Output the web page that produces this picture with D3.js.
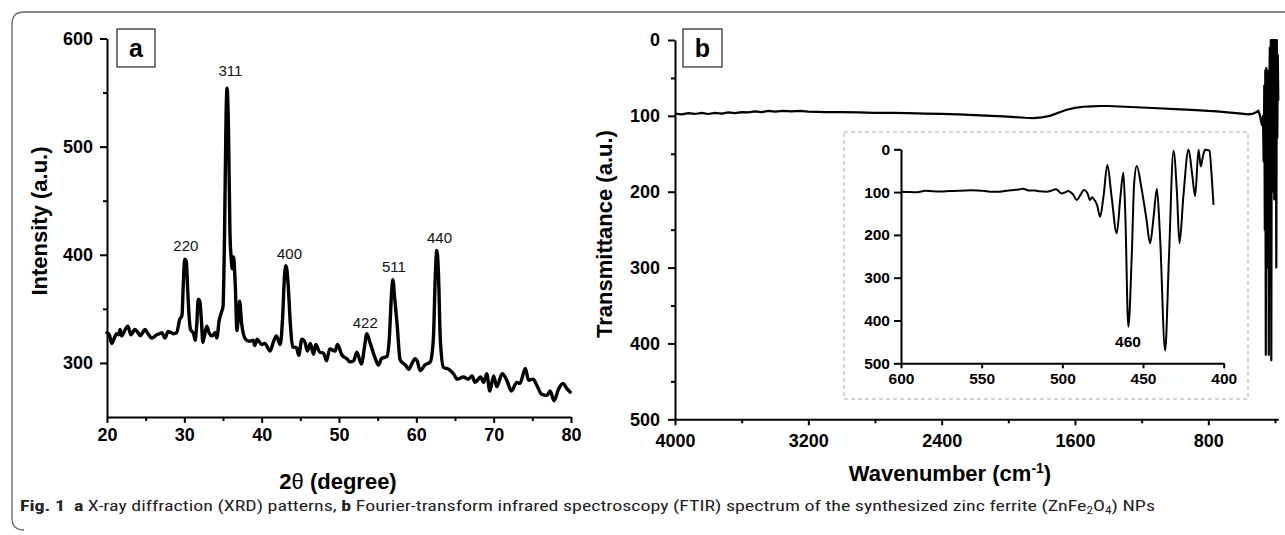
<!DOCTYPE html>
<html><head><meta charset="utf-8">
<script src="https://cdn.jsdelivr.net/npm/d3@7"></script>
<style>body{margin:0;background:#fff} svg{display:block}</style>
</head><body>
<svg id="c" width="1285" height="535"></svg>
<script>
// ---------- Panel a: XRD ----------
const xrdTheta = [20.0,20.3,20.6,21.0,21.25,21.5,21.7,21.9,22.1,22.3,22.7,23.1,23.3,23.6,24.0,24.3,24.6,24.9,25.3,25.8,26.1,26.4,26.8,27.1,27.5,27.9,28.3,28.6,29.0,29.4,29.7,29.85,30.05,30.25,30.45,30.6,30.8,31.2,31.4,31.6,31.8,32.0,32.2,32.4,32.6,32.9,33.2,33.6,34.0,34.2,34.5,34.8,35.0,35.2,35.4,35.52,35.7,35.9,36.05,36.2,36.35,36.6,36.8,36.95,37.15,37.4,37.9,38.4,38.9,39.1,39.4,40.0,40.4,41.1,41.5,41.9,42.4,42.7,42.95,43.15,43.4,43.7,44.0,44.5,44.8,45.2,45.6,45.9,46.3,46.7,47.0,47.5,48.0,48.4,48.8,49.5,49.8,50.4,51.0,51.4,51.9,52.3,52.9,53.3,53.6,54.0,54.7,55.1,55.5,56.2,56.5,56.8,56.96,57.2,57.5,57.9,58.1,58.6,59.0,59.4,59.85,60.1,60.5,61.1,61.8,62.2,62.45,62.65,62.85,63.1,63.5,64.2,64.8,65.3,66.1,66.7,67.2,67.6,68.3,68.7,69.1,69.5,70.0,70.4,71.1,71.7,72.3,73.0,73.4,74.1,74.5,75.1,75.6,76.2,76.9,77.3,77.8,78.4,78.95,79.5,79.9];
const xrdIntensity = [328,326,318,324,327,326,331,325,327,330,334,326,328,331,328,325,328,331,327,323,324,326,327,328,323,329,328,327,328,340,344,370,396,394,365,345,331,327,321,335,359,357,340,319,325,334,328,325,328,323,339,347,352,420,530,554,520,420,398,387,398,370,330,340,357,337,322,320,321,316,322,317,318,311,319,325,317,341,380,390,375,337,315,314,307,322,319,311,318,308,317,310,309,302,313,311,317,307,304,301,302,310,299,315,327,319,304,298,304,306,322,365,377,360,337,303,301,298,294,299,304,302,293,298,301,322,380,404,385,322,296,294,290,285,287,285,288,282,287,282,290,274,288,278,290,284,274,282,281,295,284,285,279,271,270,274,265,276,281,276,273];
const xrdPeakNames = ["220","311","400","422","511","440"];
const xrdPeakLabelTheta = [30.2,35.95,43.6,53.4,57.1,63.0];
const xrdPeakLabelIntensity = [408.8,570,401.4,336.9,388.9,416.1];
const xrdXTicks = [20,30,40,50,60,70,80];
const xrdXMinor = [25,35,45,55,65,75];
const xrdYTicks = [300,400,500,600];
const xrdYMinor = [350,450,550];

// ---------- Panel b: FTIR (main) ----------
const ftirWn = [4000,3960,3920,3880,3840,3800,3760,3720,3680,3640,3600,3560,3520,3480,3440,3400,3350,3300,3250,3200,3100,3000,2900,2800,2700,2600,2500,2400,2300,2200,2100,2000,1900,1850,1800,1750,1700,1650,1600,1550,1500,1450,1400,1300,1200,1100,1000,900,800,750,700,650,600,560,530,510,500,492,485,478,472,468,464,461,458,455,452,449,446,443,440,437,434,431,428,425,422,419,416,413,410,407,404,401,398,395,392,389,386,383,380];
const ftirT = [97,98,96.5,97.5,96,97.5,96,97,95.5,96.5,95,95.5,94,95,93.5,94.5,93.5,94,93.5,94.5,95,95,95.5,96,96,96.5,97,97.5,98,99,100,101,102.5,103,102,100,96,92,89.5,88,87.5,87,87,88,89,90,91,92,93.5,94,95,96,97,98,97,95,93,98,105,112,100,160,60,250,40,415,37,300,40,200,60,415,70,10,250,0,422,0,200,0,129,0,210,0,129,0,300,0,129,20,80];
const ftirXTicks = [4000,3200,2400,1600,800];
const ftirXMinor = [3600,2800,2000,1200,400];
const ftirYTicks = [0,100,200,300,400,500];
const ftirYMinor = [50,150,250,350,450];

// ---------- Panel b: inset (600-400 cm-1) ----------
const insetWn = [600,595,590,585,580,575,570,565,560,557,552,548,545,540,535,530,527,524.5,521,517,514,510,507,504,500.4,498,496.3,493.5,491,489,486.6,484.5,482.9,481.5,480.8,478.5,476.6,474.5,472.1,469.5,466.3,464,462.2,461,459.1,457,455.5,453.9,451,448,445.6,443.5,441.4,439.5,436.3,434,431.1,429,427.4,425,421.8,419.5,417.7,415.6,414.2,412.8,411.5,408.8,407.5,406.3];
const insetT = [99,100,100.5,97,98,98.5,97.5,97,96.5,95.7,96,97.5,99,99,97,95,94,92,96,96.5,98,99,97,93.5,103,100,97.4,105,118.4,108,95,102,118.4,112,114.6,130,157.4,110,36.7,110,196.3,110,54.6,150,414.4,250,80,39,90,160,219.6,160,93,200,470,260,3.5,100,219.7,110,0.5,60,109.5,1,40,15,1,3,60,130];
const insetXTicks = [600,550,500,450,400];
const insetYTicks = [0,100,200,300,400,500];

const svg = d3.select("#c");
const FONT = "'Liberation Sans', Arial, Helvetica, sans-serif";
const fmt = d3.format("d");

// outer frame
svg.append("path")
  .attr("d","M1285,12 H24 Q12,12 12,24 V518 Q12,530 24,530")
  .attr("fill","none").attr("stroke","#666").attr("stroke-width",1.3);

function styleAxis(g, fs){
  g.select(".domain").attr("stroke","#000").attr("stroke-width",2);
  g.selectAll(".tick line").attr("stroke","#000").attr("stroke-width",2);
  g.selectAll(".tick text").attr("fill","#000")
    .attr("font-family",FONT).attr("font-size",fs).attr("font-weight","bold");
}
function minor(g){ g.selectAll(".tick text").remove(); g.select(".domain").remove();
  g.selectAll(".tick line").attr("stroke","#000").attr("stroke-width",2); }

// ===== Panel a =====
const xA = d3.scaleLinear().domain([20,80]).range([107,571]);
const yA = d3.scaleLinear().domain([250,600]).range([417,38.5]);

svg.append("g").attr("transform","translate(0,417)")
  .call(d3.axisBottom(xA).tickValues(xrdXMinor).tickSize(4).tickSizeOuter(0)).call(minor);
svg.append("g").attr("transform","translate(107,0)")
  .call(d3.axisLeft(yA).tickValues(xrdYMinor).tickSize(4).tickSizeOuter(0)).call(minor);
svg.append("g").attr("transform","translate(0,417)")
  .call(d3.axisBottom(xA).tickValues(xrdXTicks).tickFormat(fmt).tickSize(6).tickPadding(5).tickSizeOuter(0))
  .call(g=>styleAxis(g,18));
svg.append("g").attr("transform","translate(107,0)")
  .call(d3.axisLeft(yA).tickValues(xrdYTicks).tickFormat(fmt).tickSize(7).tickPadding(7).tickSizeOuter(0))
  .call(g=>styleAxis(g,18));

const xrdData = xrdTheta.map((t,i)=>[t,xrdIntensity[i]]);
svg.append("path").datum(xrdData)
  .attr("fill","none").attr("stroke","#000").attr("stroke-width",3.4)
  .attr("stroke-linejoin","round").attr("stroke-linecap","round")
  .attr("d", d3.line().x(d=>xA(d[0])).y(d=>yA(d[1])).curve(d3.curveMonotoneX));

svg.append("g").selectAll("text").data(xrdPeakNames).join("text")
  .attr("x",(d,i)=>xA(xrdPeakLabelTheta[i]))
  .attr("y",(d,i)=>yA(xrdPeakLabelIntensity[i]))
  .attr("dy","0.36em").attr("text-anchor","middle")
  .attr("font-family",FONT).attr("font-size",15).attr("fill","#111")
  .text(d=>d);

svg.append("rect").attr("x",117).attr("y",29).attr("width",38).attr("height",38)
  .attr("fill","#fff").attr("stroke","#222").attr("stroke-width",1.2);
svg.append("text").attr("x",136).attr("y",57).attr("text-anchor","middle")
  .attr("font-family",FONT).attr("font-size",25).attr("font-weight","bold").text("a");

svg.append("text").attr("transform","translate(47,221) rotate(-90)")
  .attr("text-anchor","middle").attr("font-family",FONT).attr("font-size",22)
  .attr("font-weight","bold").text("Intensity (a.u.)");
const tA = svg.append("text").attr("x",338).attr("y",489).attr("text-anchor","middle")
  .attr("font-family",FONT).attr("font-size",22).attr("font-weight","bold");
tA.append("tspan").text("2");
tA.append("tspan").attr("font-weight","normal").text("\u03B8");
tA.append("tspan").text(" (degree)");

// ===== Panel b =====
const xB = d3.scaleLinear().domain([4000,380]).range([675,1278.3]);
const yB = d3.scaleLinear().domain([0,500]).range([40,419.3]);

svg.append("g").attr("transform","translate(0,419.3)")
  .call(d3.axisBottom(xB).tickValues(ftirXMinor).tickSize(4).tickSizeOuter(0)).call(minor);
svg.append("g").attr("transform","translate(675,0)")
  .call(d3.axisLeft(yB).tickValues(ftirYMinor).tickSize(4).tickSizeOuter(0)).call(minor);
svg.append("g").attr("transform","translate(0,419.3)")
  .call(d3.axisBottom(xB).tickValues(ftirXTicks).tickFormat(fmt).tickSize(6).tickPadding(9).tickSizeOuter(0))
  .call(g=>styleAxis(g,18));
svg.append("g").attr("transform","translate(675,0)")
  .call(d3.axisLeft(yB).tickValues(ftirYTicks).tickFormat(fmt).tickSize(7).tickPadding(8).tickSizeOuter(0))
  .call(g=>styleAxis(g,18));

const ftirData = ftirWn.map((w,i)=>[w,ftirT[i]]);
svg.append("path").datum(ftirData)
  .attr("fill","none").attr("stroke","#000").attr("stroke-width",2.2)
  .attr("stroke-linejoin","round")
  .attr("d", d3.line().x(d=>xB(d[0])).y(d=>yB(d[1])));

svg.append("rect").attr("x",683).attr("y",29).attr("width",39).attr("height",38)
  .attr("fill","#fff").attr("stroke","#222").attr("stroke-width",1.2);
svg.append("text").attr("x",702.5).attr("y",57).attr("text-anchor","middle")
  .attr("font-family",FONT).attr("font-size",25).attr("font-weight","bold").text("b");

svg.append("text").attr("transform","translate(612,234) rotate(-90)")
  .attr("text-anchor","middle").attr("font-family",FONT).attr("font-size",22)
  .attr("font-weight","bold").text("Transmittance (a.u.)");
const tB = svg.append("text").attr("x",950).attr("y",481).attr("text-anchor","middle")
  .attr("font-family",FONT).attr("font-size",22).attr("font-weight","bold");
tB.append("tspan").text("Wavenumber (cm");
tB.append("tspan").attr("font-size",14).attr("dy",-8).text("-1");
tB.append("tspan").attr("dy",8).text(")");

// ===== Inset =====
svg.append("rect").attr("x",844).attr("y",132).attr("width",404).attr("height",267)
  .attr("fill","none").attr("stroke","#aaa").attr("stroke-width",1).attr("stroke-dasharray","4,3");
const xI = d3.scaleLinear().domain([600,400]).range([901,1223.7]);
const yI = d3.scaleLinear().domain([0,500]).range([149.3,363.3]);
svg.append("g").attr("transform","translate(0,363.3)")
  .call(d3.axisBottom(xI).tickValues(insetXTicks).tickFormat(fmt).tickSize(5).tickPadding(5).tickSizeOuter(0))
  .call(g=>styleAxis(g,15.5));
svg.append("g").attr("transform","translate(901,0)")
  .call(d3.axisLeft(yI).tickValues(insetYTicks).tickFormat(fmt).tickSize(7).tickPadding(4).tickSizeOuter(0))
  .call(g=>styleAxis(g,15.5));
const insetData = insetWn.map((w,i)=>[w,insetT[i]]);
svg.append("path").datum(insetData)
  .attr("fill","none").attr("stroke","#000").attr("stroke-width",2)
  .attr("stroke-linejoin","round")
  .attr("d", d3.line().x(d=>xI(d[0])).y(d=>yI(d[1])).curve(d3.curveMonotoneX));
svg.append("text").attr("x",xI(459.3)).attr("y",yI(450)).attr("dy","0.36em")
  .attr("text-anchor","middle").attr("font-family",FONT).attr("font-size",15.5)
  .attr("font-weight","bold").text("460");

// ===== Caption =====
const cap = svg.append("text").attr("x",20).attr("y",511)
  .attr("font-family","'Liberation Sans Narrow','Roboto Condensed','Open Sans',sans-serif")
  .attr("font-size",15).attr("fill","#222")
  .attr("textLength",1135).attr("lengthAdjust","spacingAndGlyphs");
cap.append("tspan").attr("font-weight","bold").text("Fig. 1");
cap.append("tspan").text("\u2002");
cap.append("tspan").attr("font-weight","bold").text("a");
cap.append("tspan").text(" X-ray diffraction (XRD) patterns, ");
cap.append("tspan").attr("font-weight","bold").text("b");
cap.append("tspan").text(" Fourier-transform infrared spectroscopy (FTIR) spectrum of the synthesized zinc ferrite (ZnFe");
cap.append("tspan").attr("font-size",10).attr("dy",3).text("2");
cap.append("tspan").attr("dy",-3).text("O");
cap.append("tspan").attr("font-size",10).attr("dy",3).text("4");
cap.append("tspan").attr("dy",-3).text(") NPs");
</script>
</body></html>
